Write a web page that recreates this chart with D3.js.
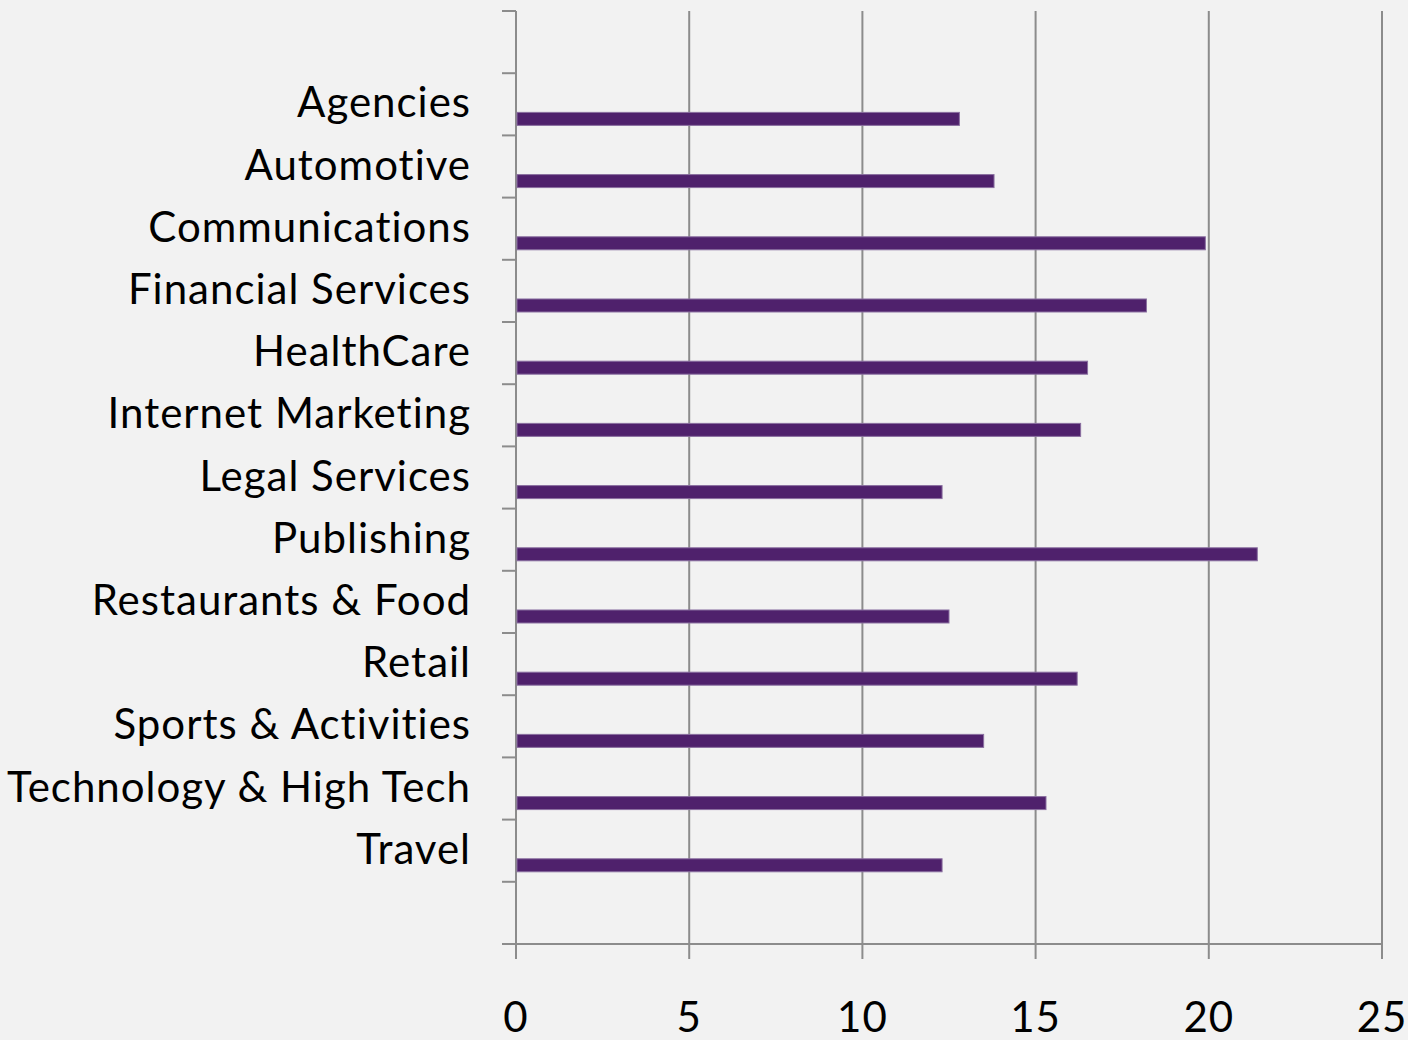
<!DOCTYPE html>
<html>
<head>
<meta charset="utf-8">
<script src="https://cdn.jsdelivr.net/npm/d3@7"></script>
<style>
  html, body { margin: 0; padding: 0; background: #f2f2f2; }
  svg { display: block; }
  text { font-family: Lato, "Open Sans", sans-serif; fill: #000; font-variant-ligatures: none; }
</style>
</head>
<body>
<div id="chart"></div>
<script>
// === data ===
const categories = [
  "Agencies", "Automotive", "Communications", "Financial Services", "HealthCare",
  "Internet Marketing", "Legal Services", "Publishing", "Restaurants & Food",
  "Retail", "Sports & Activities", "Technology & High Tech", "Travel"
];
const values = [12.8, 13.8, 19.9, 18.2, 16.5, 16.3, 12.3, 21.4, 12.5, 16.2, 13.5, 15.3, 12.3];
const xTicks = [0, 5, 10, 15, 20, 25];

const W = 1408, H = 1040;
const plotLeft = 516, plotRight = 1382, plotTop = 11, plotBottom = 944;

const svg = d3.select("#chart").append("svg")
  .attr("width", W).attr("height", H);

svg.append("rect").attr("width", W).attr("height", H).attr("fill", "#f2f2f2");

const x = d3.scaleLinear().domain([0, 25]).range([plotLeft, plotRight]);
const y = d3.scaleBand().domain(categories).range([plotTop, plotBottom])
  .paddingInner(0).paddingOuter(1);
const step = y.step();

const gridColor = "#8c8c8c";

// vertical gridlines
svg.append("g").selectAll("line")
  .data(xTicks.filter(d => d > 0))
  .join("line")
  .attr("x1", d => x(d)).attr("x2", d => x(d))
  .attr("y1", plotTop).attr("y2", plotBottom)
  .attr("stroke", gridColor).attr("stroke-width", 2);

// y axis line + ticks at band edges
svg.append("line")
  .attr("x1", plotLeft).attr("x2", plotLeft).attr("y1", plotTop).attr("y2", plotBottom)
  .attr("stroke", gridColor).attr("stroke-width", 2);
const edges = d3.range(categories.length + 3).map(i => plotTop + i * step);
svg.append("g").selectAll("line")
  .data(edges)
  .join("line")
  .attr("x1", plotLeft - 14).attr("x2", plotLeft)
  .attr("y1", d => d).attr("y2", d => d)
  .attr("stroke", gridColor).attr("stroke-width", 2);

// x axis line + ticks
svg.append("line")
  .attr("x1", plotLeft - 14).attr("x2", plotRight).attr("y1", plotBottom).attr("y2", plotBottom)
  .attr("stroke", gridColor).attr("stroke-width", 2);
svg.append("g").selectAll("line")
  .data(xTicks)
  .join("line")
  .attr("x1", d => x(d)).attr("x2", d => x(d))
  .attr("y1", plotBottom).attr("y2", plotBottom + 15)
  .attr("stroke", gridColor).attr("stroke-width", 2);

svg.append("g").selectAll("text")
  .data(xTicks)
  .join("text")
  .attr("x", d => x(d)).attr("y", 1032)
  .attr("text-anchor", "middle")
  .attr("font-size", 42)
  .attr("letter-spacing", 1)
  .text(d => d);

// bars (sit in the lower part of each band)
svg.append("g").selectAll("rect")
  .data(categories.map((c, i) => ({ c, v: values[i] })))
  .join("rect")
  .attr("x", x(0) + 1)
  .attr("y", d => y(d.c) + step * 0.63)
  .attr("width", d => x(d.v) - x(0) - 1)
  .attr("height", 13)
  .attr("fill", "#4f216c")
  .attr("stroke", "#8a6fa0")
  .attr("stroke-width", 1);

// category labels
svg.append("g").selectAll("text")
  .data(categories)
  .join("text")
  .attr("x", 471)
  .attr("y", d => y(d) + step / 2 + 13)
  .attr("text-anchor", "end")
  .attr("font-size", 42)
  .attr("letter-spacing", 1)
  .text(d => d);
</script>
</body>
</html>
